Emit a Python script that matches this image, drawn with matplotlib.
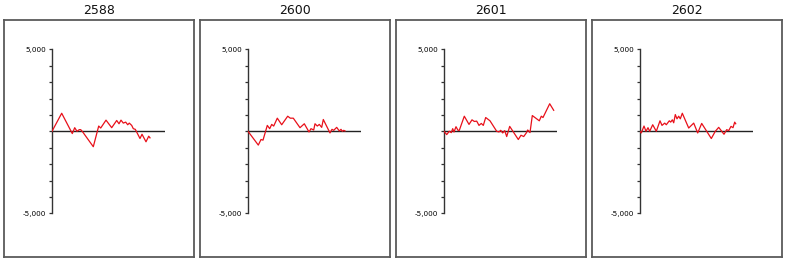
import numpy as np
import matplotlib.pyplot as plt

# titulos de cada panel
titles = ['2588', '2600', '2601', '2602']

# valores (x = posicion en el eje, y = valor)
x_2588 = [0, 9.7, 20.3, 22.7, 25, 27.3, 28.7, 30.7, 41.3, 46.7, 48.7, 54, 59.7, 64.7,
          67, 69, 71.3, 73.7, 75.7, 77.3, 79.7, 81.3, 83.3, 88, 90, 94, 96.7, 98]
y_2588 = [0, 1100, -140, 220, 0, 100, 100, -40, -940, 320, 200, 680, 220, 660,
          460, 680, 500, 560, 400, 500, 360, 160, 120, -440, -180, -640, -300, -400]

x_2600 = [0, 10.3, 13, 15, 19.3, 21.7, 23.7, 25.7, 29.3, 33.7, 39.7, 42.3, 45.3, 52,
          56.3, 61, 63, 65.7, 67, 69.3, 71.3, 73.7, 75.3, 82, 84, 85.7, 88.7, 91.3,
          93, 94.3, 95.7, 97]
y_2600 = [0, -840, -500, -540, 360, 160, 420, 320, 800, 400, 920, 800, 800, 220,
          460, -40, 160, 80, 460, 320, 420, 240, 720, -100, 120, 60, 240, 20,
          120, 0, 60, 20]

x_2601 = [0, 2.7, 5.3, 7.3, 8.7, 10, 12, 14, 15.3, 20.3, 25, 28, 30.3, 32.7, 35,
          37.3, 39.3, 41.7, 46, 52.7, 55, 56.7, 58.7, 60.7, 62.7, 65.7, 74.3, 77,
          79.7, 82.3, 83.7, 86, 88.3, 95.3, 97.3, 99, 105.7, 109.7]
y_2601 = [0, -200, 0, -80, 160, -40, 280, 60, 60, 920, 420, 700, 600, 620, 360,
          480, 360, 840, 640, 0, -40, 60, -100, 40, -320, 300, -500, -240,
          -320, -100, 80, -80, 960, 640, 920, 840, 1680, 1280]

x_2602 = [0, 1.3, 4, 6, 8, 9.7, 12.7, 16.3, 20, 22, 24.7, 26.3, 29.3, 30.7, 32.3,
          33.7, 35.3, 37, 38.7, 40.3, 42.3, 48.7, 53.7, 57.7, 61.7, 71.3, 75.3,
          78.7, 84, 86.7, 88.7, 91, 93, 94.7, 95.7]
y_2602 = [0, -100, 320, 0, 220, 0, 400, 0, 640, 360, 500, 400, 640, 560, 700,
          520, 1020, 760, 920, 760, 1100, 200, 500, -100, 480, -440, 0,
          240, -180, 100, 40, 300, 220, 560, 460]

series = [(x_2588, y_2588), (x_2600, y_2600), (x_2601, y_2601), (x_2602, y_2602)]

y_ticks = [-5000, -4000, -3000, -2000, -1000, 0, 1000, 2000, 3000, 4000, 5000]
y_tick_labels = ['-5,000', '', '', '', '', '', '', '', '', '', '5,000']

W, H = 786, 264
fig = plt.figure(figsize=(W / 100, H / 100), dpi=100)
fig.patch.set_facecolor('white')


def px_axes(left, top, width, height):
    # crea un eje usando coordenadas en pixeles (desde arriba a la izquierda)
    return fig.add_axes([left / W, (H - top - height) / H, width / W, height / H])


for i, (xs, ys) in enumerate(series):
    x0 = 4 + 196 * i

    # marco exterior con el titulo
    box = px_axes(x0, 20, 190, 236.5)
    box.set_xticks([])
    box.set_yticks([])
    for s in box.spines.values():
        s.set_color('#5a5a5a')
        s.set_linewidth(1.3)
    box.set_title(titles[i], fontsize=9, pad=4, color='#111111')

    # area de datos
    ax = px_axes(x0 + 48, 49.3, 113, 164)
    ax.patch.set_alpha(0)
    ax.plot(xs, ys, color='#e8101a', linewidth=0.9, zorder=3)
    ax.axhline(0, color='#222222', linewidth=1.0, zorder=2)
    ax.set_xlim(0, 113)
    ax.set_ylim(-5000, 5000)
    ax.set_xticks([])
    ax.set_yticks(y_ticks)
    ax.set_yticklabels(y_tick_labels, fontsize=5.2)
    ax.tick_params(axis='y', length=2.5, width=0.9, pad=1.5, color='#333333')
    for side in ['top', 'right', 'bottom']:
        ax.spines[side].set_visible(False)
    ax.spines['left'].set_color('#333333')
    ax.spines['left'].set_linewidth(1.0)

fig.savefig('out.png', dpi=100, facecolor='white')
